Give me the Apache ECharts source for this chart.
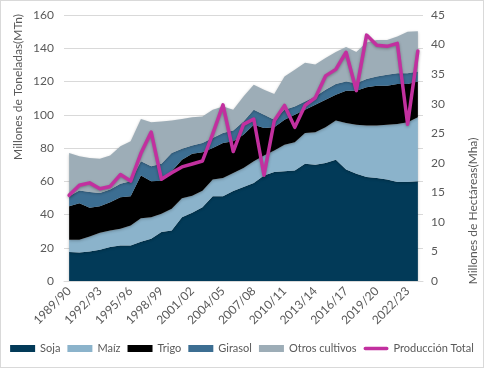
<!DOCTYPE html>
<html>
<head>
<meta charset="utf-8">
<script src="https://cdn.jsdelivr.net/npm/echarts@6/dist/echarts.min.js"></script>
<style>
html,body{margin:0;padding:0;background:#fff;}
#c{width:484px;height:368px;box-sizing:border-box;border:1px solid #D9D9D9;}
</style>
</head>
<body>
<div id="c"></div>
<script>
var categories = ['1989/90','1990/91','1991/92','1992/93','1993/94','1994/95','1995/96','1996/97','1997/98','1998/99',
'1999/00','2000/01','2001/02','2002/03','2003/04','2004/05','2005/06','2006/07','2007/08','2008/09',
'2009/10','2010/11','2011/12','2012/13','2013/14','2014/15','2015/16','2016/17','2017/18','2018/19',
'2019/20','2020/21','2021/22','2022/23','2023/24'];

var soja   = [17.4,17.2,17.7,18.8,20.4,21.3,21.3,23.6,25.4,29.4,30.4,38.3,41.0,44.3,51.0,51.0,54.2,56.5,59.0,63.5,65.5,66.0,66.5,70.5,70.0,71.0,73.0,67.0,64.5,62.5,62.0,61.0,59.5,59.5,60.0];
var maiz   = [7.4,7.6,9.1,10.2,10.0,10.1,12.1,14.2,13.0,11.0,13.1,11.4,10.3,10.0,10.0,11.0,10.8,11.5,13.0,12.0,13.0,16.0,17.0,18.5,19.5,21.5,23.5,28.0,29.5,31.0,31.5,33.0,35.0,36.0,38.5];
var trigo  = [20.2,22.0,17.2,16.0,17.0,19.0,17.6,25.7,21.6,19.9,22.5,23.3,25.2,23.2,19.0,21.0,19.0,20.0,22.0,16.5,14.0,15.0,16.5,14.0,16.5,16.5,15.5,19.5,20.5,23.0,24.0,23.5,24.0,23.0,21.5];
var girasol= [6.0,7.7,9.5,8.0,7.6,8.1,9.0,8.5,9.0,10.2,11.0,6.5,5.0,5.5,6.0,6.0,6.5,8.0,9.0,8.0,4.5,6.0,5.0,5.0,5.0,6.0,6.5,5.5,4.5,5.0,5.5,6.5,6.5,6.5,6.0];
var otros  = [26.0,20.5,20.5,20.5,20.5,22.5,24.0,25.5,26.5,25.5,19.5,18.0,17.0,16.0,17.0,16.0,12.5,15.0,15.0,15.0,15.5,20.0,22.0,23.3,19.2,19.2,19.3,20.8,18.7,22.0,22.0,21.0,22.0,25.0,24.3];
var produccionTotal = [14.5,16.2,16.6,15.6,16.0,18.0,16.9,21.6,25.2,17.2,18.3,19.3,19.8,20.3,24.9,29.8,21.9,26.5,27.4,17.9,27.1,29.7,26.0,29.7,31.0,34.7,35.8,38.7,32.2,41.6,39.9,39.7,40.2,26.5,38.9];

var leftTicks = {min:0, max:160, interval:20};
var rightTicks = {min:0, max:45, interval:5};

var FONT = 'Lato';
var TXT = '#595959';

function areaSeries(name, data, color) {
  return {
    name: name, type: 'line', stack: 'total', data: data,
    symbol: 'none', showSymbol: false, smooth: false,
    lineStyle: {width: 0, color: color},
    itemStyle: {color: color},
    areaStyle: {color: color, opacity: 1, shadowColor: 'rgba(0,0,0,0.25)', shadowBlur: 3, shadowOffsetY: 1},
    emphasis: {disabled: true},
    z: 2
  };
}

var chart = echarts.init(document.getElementById('c'), null, {renderer: 'canvas'});
chart.setOption({
  animation: false,
  backgroundColor: '#ffffff',
  textStyle: {fontFamily: FONT},
  grid: {left: 63, right: 60, top: 14, bottom: 86, containLabel: false},
  legend: {
    bottom: 8, left: 'center',
    itemWidth: 25, itemHeight: 7, itemGap: 7,
    symbolKeepAspect: true,
    textStyle: {fontFamily: FONT, fontSize: 11, color: TXT},
    data: [
      {name: 'Soja', icon: 'rect'},
      {name: 'Maíz', icon: 'rect'},
      {name: 'Trigo', icon: 'rect'},
      {name: 'Girasol', icon: 'rect'},
      {name: 'Otros cultivos', icon: 'rect'},
      {name: 'Producción Total', icon: 'path://M2,0 L26,0 A2,2 0 0 1 26,4 L2,4 A2,2 0 0 1 2,0 Z',
        itemStyle: {color: '#C2309F'}}
    ]
  },
  xAxis: {
    type: 'category', data: categories, boundaryGap: true,
    axisLine: {show: true, lineStyle: {color: '#D9D9D9'}},
    axisTick: {show: false},
    axisLabel: {interval: 2, rotate: 45, color: TXT, fontSize: 12, fontFamily: FONT, margin: 8}
  },
  yAxis: [
    {
      type: 'value', min: leftTicks.min, max: leftTicks.max, interval: leftTicks.interval,
      axisLine: {show: false}, axisTick: {show: false},
      axisLabel: {color: TXT, fontSize: 12, fontFamily: FONT, margin: 10},
      splitLine: {show: true, lineStyle: {color: '#D9D9D9'}}
    },
    {
      type: 'value', min: rightTicks.min, max: rightTicks.max, interval: rightTicks.interval,
      axisLine: {show: false}, axisTick: {show: false},
      axisLabel: {color: TXT, fontSize: 12, fontFamily: FONT, margin: 8},
      splitLine: {show: false}
    }
  ],
  series: [
    areaSeries('Soja', soja, '#023A58'),
    areaSeries('Maíz', maiz, '#8BB3CB'),
    areaSeries('Trigo', trigo, '#000000'),
    areaSeries('Girasol', girasol, '#3C6E92'),
    areaSeries('Otros cultivos', otros, '#9DADB7'),
    {
      name: 'Producción Total', type: 'line', yAxisIndex: 1, data: produccionTotal,
      symbol: 'none', showSymbol: false,
      lineStyle: {width: 3.5, color: '#C2309F', cap: 'round', join: 'round',
        shadowColor: 'rgba(0,0,0,0.3)', shadowBlur: 3, shadowOffsetY: 1},
      itemStyle: {color: '#C2309F'},
      emphasis: {disabled: true},
      z: 5
    }
  ],
  graphic: [
    {type: 'text', x: 17, y: 86, rotation: Math.PI / 2,
      style: {text: 'Millones de Toneladas(MTn)', fill: TXT, font: '12px ' + FONT, textAlign: 'center', textVerticalAlign: 'middle'}},
    {type: 'text', x: 472, y: 210, rotation: Math.PI / 2,
      style: {text: 'Millones de Hectáreas(Mha)', fill: TXT, font: '12px ' + FONT, textAlign: 'center', textVerticalAlign: 'middle'}}
  ]
});
</script>
</body>
</html>
